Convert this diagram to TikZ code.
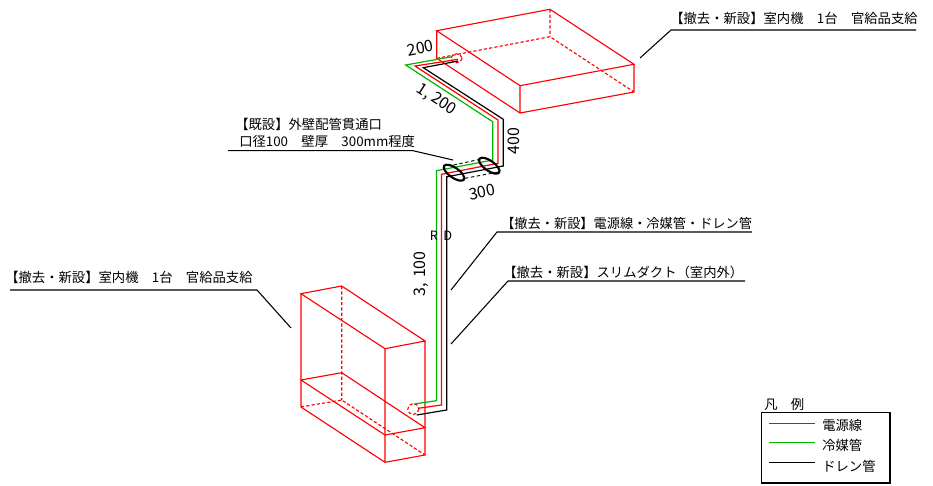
\documentclass[tikz,border=0pt]{standalone}
\usepackage{fontspec}
\setmainfont{Noto Sans CJK JP}
\definecolor{pipered}{RGB}{255,0,0}
\definecolor{pipegreen}{RGB}{0,180,0}
\tikzset{
unitline/.style={pipered,line width=0.85pt},
unithidden/.style={pipered,line width=0.85pt,dash pattern=on 2.4pt off 1.6pt},
leader/.style={black,line width=0.8pt},
label/.style={inner sep=0pt,anchor=base west,font=\fontsize{10pt}{11pt}\selectfont},
dim/.style={inner sep=0pt,font=\fontsize{12pt}{13pt}\selectfont},
}
\begin{document}
\begin{tikzpicture}[x=0.75pt,y=-0.75pt]
\useasboundingbox(0,0) rectangle (933,486);
% upper unit
\coordinate(ua) at (436.7,30.7);\coordinate(ub) at (550,9.3);\coordinate(uc) at (634,64.3);\coordinate(ud) at (520,85.7);
\coordinate(ue) at (436.7,58.3);\coordinate(uf) at (550,36.7);\coordinate(ug) at (634,92);\coordinate(uh) at (520,113);
\draw[unitline](ua)--(ub)--(uc)--(ud)--cycle (ua)--(ue)--(uh)--(ug)--(uc) (ud)--(uh);
\draw[unithidden](ub)--(uf) (ue)--(uf)--(ug);
% lower unit
\coordinate(la) at (301,293.7);\coordinate(lb) at (341.7,286);\coordinate(lc) at (425,341);\coordinate(ld) at (385,348.7);
\coordinate(le) at (301,407);\coordinate(lf) at (341.7,400);\coordinate(lg) at (425,455);\coordinate(lh) at (385,462.3);
\coordinate(li) at (301,380);\coordinate(lj) at (341.7,372.7);\coordinate(lk) at (425,427.7);\coordinate(ll) at (385,435);
\draw[unitline](la)--(lb)--(lc)--(ld)--cycle (la)--(le)--(lh)--(lg)--(lc) (ld)--(lh);
\draw[unitline](li)--(lj)--(lk)--(ll)--cycle;
\draw[unithidden](lb)--(lf) (le)--(lf)--(lg);
% pipe ends
\draw[unithidden](413.3,409) circle (5.5);
\draw[unithidden](456.5,58.3) ellipse (5.5 and 4.5);
% pipes
\draw[pipegreen,line width=0.9pt](452,56.7)--(405.7,65)--(492.7,121.7)--(492.7,160)--(436.4,170.7)--(436.4,400.7)--(414,404);
\draw[pipered,line width=0.9pt](458,59.3)--(415,66)--(498,120)--(498,163.3)--(441.4,174.3)--(441.4,405)--(418.3,408.3);
\draw[black,line width=0.9pt](458,61)--(423.3,67.7)--(503.3,119.3)--(503.3,166)--(446.7,176.8)--(446.7,410)--(416.7,415);
% sleeve
\draw[black,line width=0.7pt,dash pattern=on 2.5pt off 2pt](453.5,165)--(480,159.3) (465,178.3)--(500,171.7);
\foreach \cx/\cy in {454/172.7,489.3/165.7}{\draw[black,line width=1.6pt,rotate around={-35:(\cx,\cy)}](\cx,\cy) ellipse (12 and 5);}
% dimensions
\node[dim,rotate=11](dima) at (420.5,48){200};
\node[dim,rotate=-33](dimb) at (436.5,100){1, 200};
\node[dim,rotate=90](dimc) at (514,141){400};
\node[dim,rotate=11](dimd) at (482,192){300};
\node[dim,rotate=90](dime) at (421,274){3,\,\,100};
\node[inner sep=0pt,font=\fontsize{9.6pt}{11pt}\selectfont](rd) at (441,236){R\hspace{4pt}D};
% notes
\node[label](notea) at (670,23){【撤去・新設】室内機\quad 1台\quad 官給品支給};
\draw[leader](640,58)--(671,30)--(916,30);
\node[label](noteb) at (235,129.5){【既設】外壁配管貫通口};
\node[label](notec) at (239,146){口径100\quad 壁厚\quad 300mm程度};
\draw[leader](228,150.7)--(413,150.7)--(453,160);
\node[label,font=\fontsize{9.9pt}{11pt}\selectfont](noted) at (501,228){【撤去・新設】電源線・冷媒管・ドレン管};
\draw[leader](451,290)--(497,232)--(752,232);
\node[label](notee) at (503,277){【撤去・新設】スリムダクト（室内外）};
\draw[leader](451,344)--(508,281)--(745,281);
\node[label](notef) at (5,282){【撤去・新設】室内機\quad 1台\quad 官給品支給};
\draw[leader](10,290)--(257,290)--(291,328);
% legend
\node[label](legtitle) at (764,409){凡\quad 例};
\draw[black,line width=0.9pt](761.7,412.7) rectangle (890,483);
\foreach \y/\c/\t/\b in {423.5/pipered/電源線/430,442.7/pipegreen/冷媒管/450,462.7/black/ドレン管/471}{
\draw[\c,line width=0.9pt](769.3,\y)--(815,\y);
\node[label]at(822,\b){\t};}
\end{tikzpicture}
\end{document}
